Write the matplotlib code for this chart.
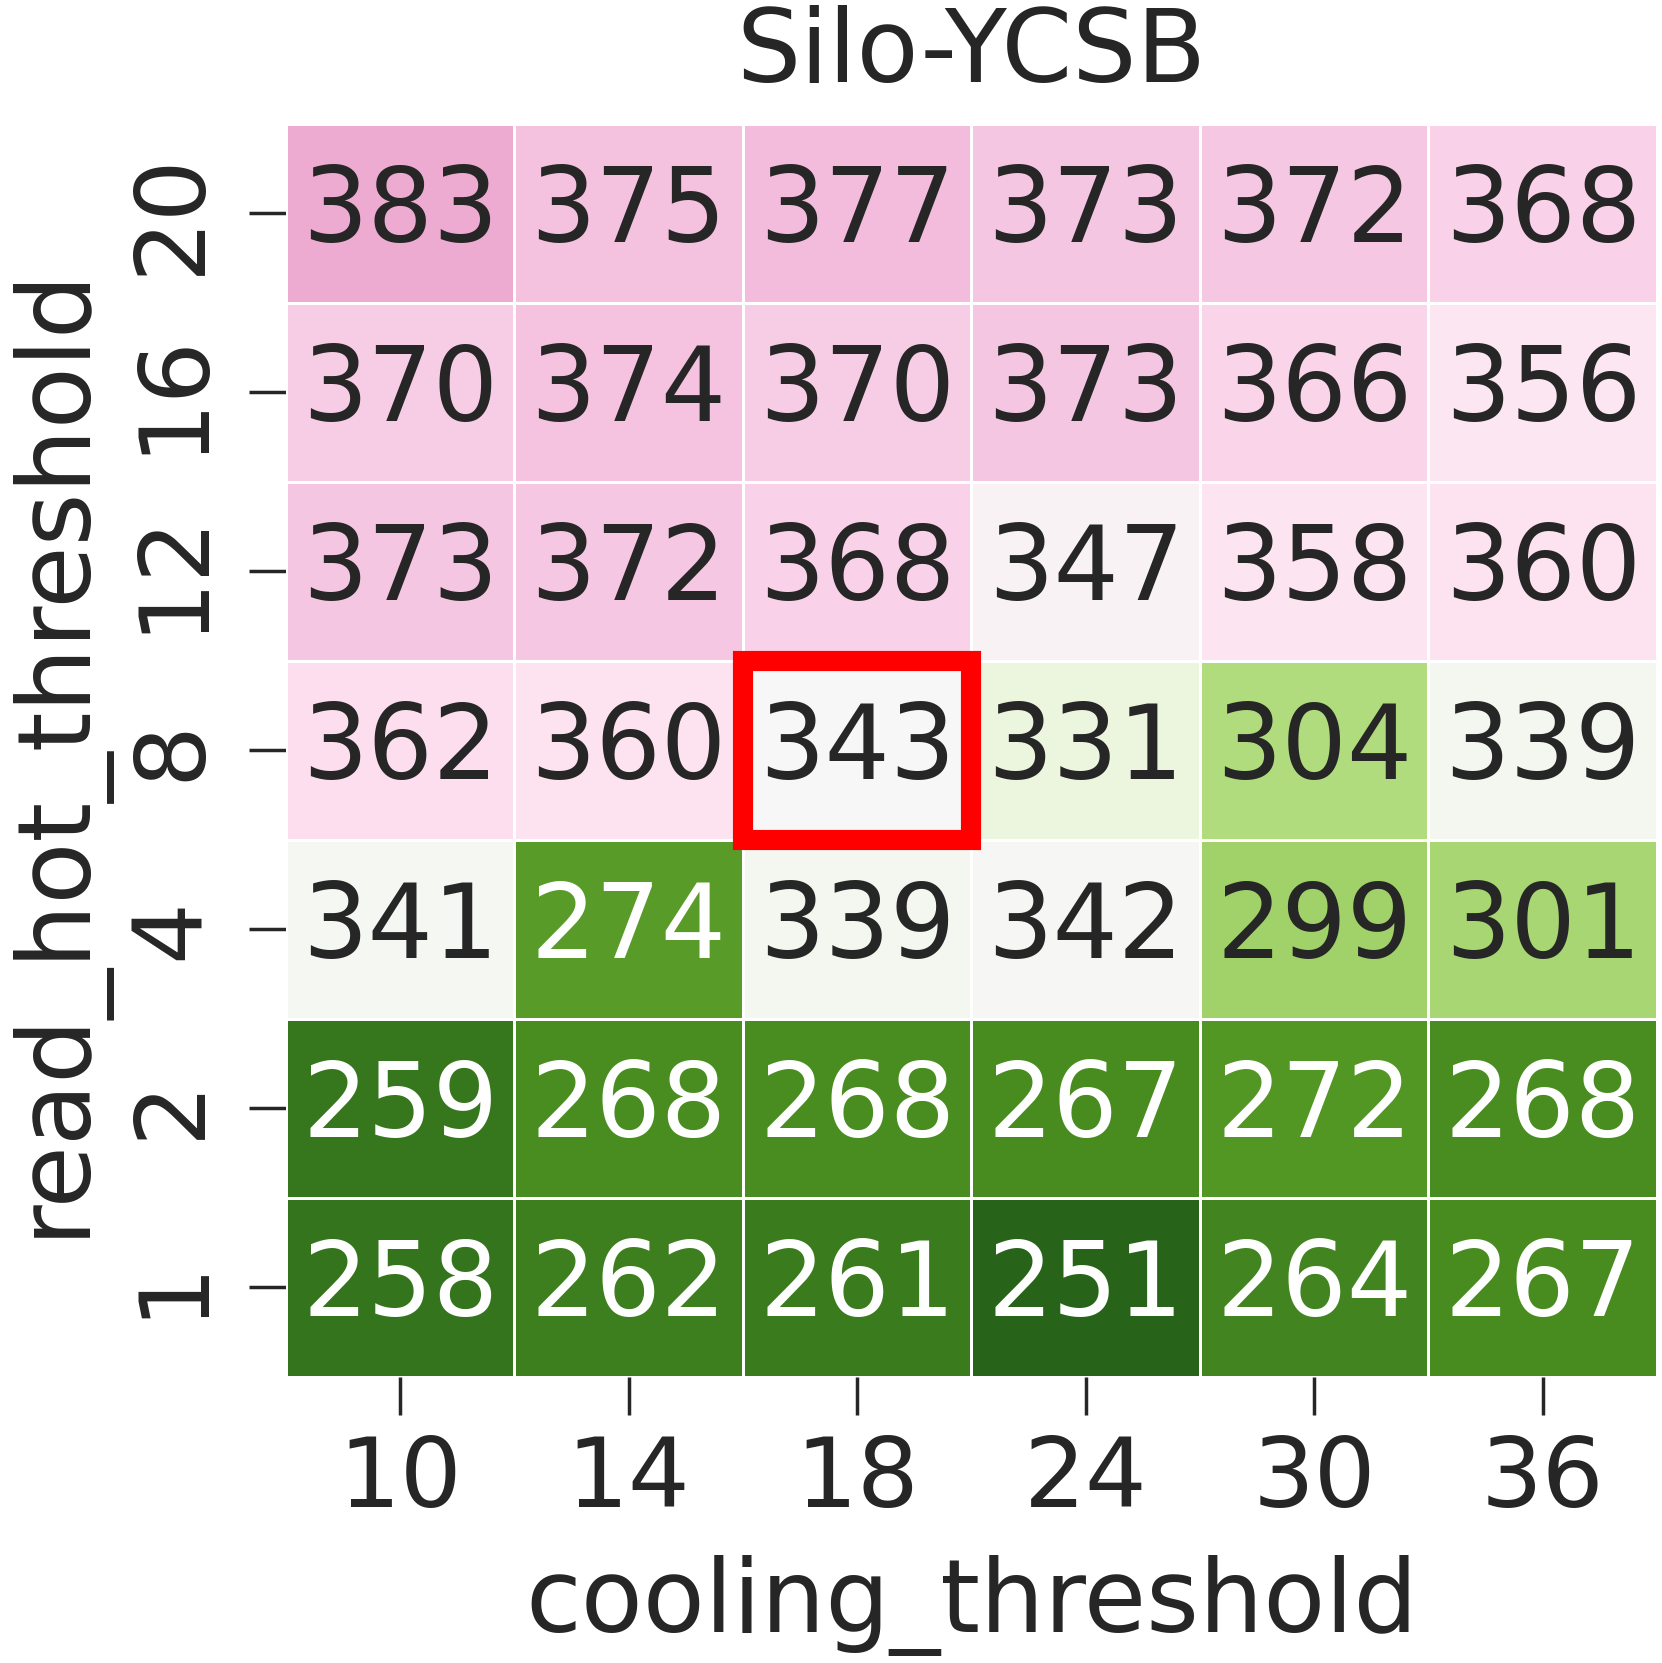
import numpy as np
import pandas as pd
import matplotlib
matplotlib.use('Agg')
import matplotlib.pyplot as plt
import seaborn as sns

# cooling_threshold (columns) x read_hot_threshold (rows, top -> bottom)
cooling = [10, 14, 18, 24, 30, 36]
read_hot = [20, 16, 12, 8, 4, 2, 1]

row_20 = [383, 375, 377, 373, 372, 368]
row_16 = [370, 374, 370, 373, 366, 356]
row_12 = [373, 372, 368, 347, 358, 360]
row_8 = [362, 360, 343, 331, 304, 339]
row_4 = [341, 274, 339, 342, 299, 301]
row_2 = [259, 268, 268, 267, 272, 268]
row_1 = [258, 262, 261, 251, 264, 267]

baseline = 343          # default config, highlighted
base_pos = (18, 8)      # (cooling, read_hot)

sns.set_theme(style='ticks')
plt.rcParams['font.family'] = ['DejaVu Sans']

df = pd.DataFrame([row_20, row_16, row_12, row_8, row_4, row_2, row_1],
                  index=read_hot, columns=cooling)

fig = plt.figure(figsize=(16.62, 16.63), dpi=100)
ax = fig.add_axes([0.172, 0.172, 0.825, 0.7535])

sns.heatmap(df, ax=ax, cmap='PiYG_r', center=baseline, annot=True, fmt='d',
            annot_kws={'fontsize': 74}, linewidths=2, linecolor='white',
            cbar=False)

# highlight the baseline cell
ci = cooling.index(base_pos[0])
ri = read_hot.index(base_pos[1])
ax.add_patch(plt.Rectangle((ci, ri), 1, 1, fill=False, edgecolor='red',
                           linewidth=14.5, clip_on=False, zorder=5))

ax.set_title('Silo-YCSB', fontsize=73, pad=30, color='#262626')
ax.set_xlabel('cooling_threshold', fontsize=73, color='#262626', labelpad=20)
ax.set_ylabel('read_hot_threshold', fontsize=73, color='#262626', labelpad=15)
ax.tick_params(axis='both', length=27, width=2.5, color='#262626',
               labelsize=70, labelcolor='#262626', pad=14)
ax.tick_params(axis='y', pad=21)
plt.setp(ax.get_yticklabels(), rotation=90, va='center')
plt.setp(ax.get_xticklabels(), rotation=0)

fig.savefig('out.png', dpi=100)
